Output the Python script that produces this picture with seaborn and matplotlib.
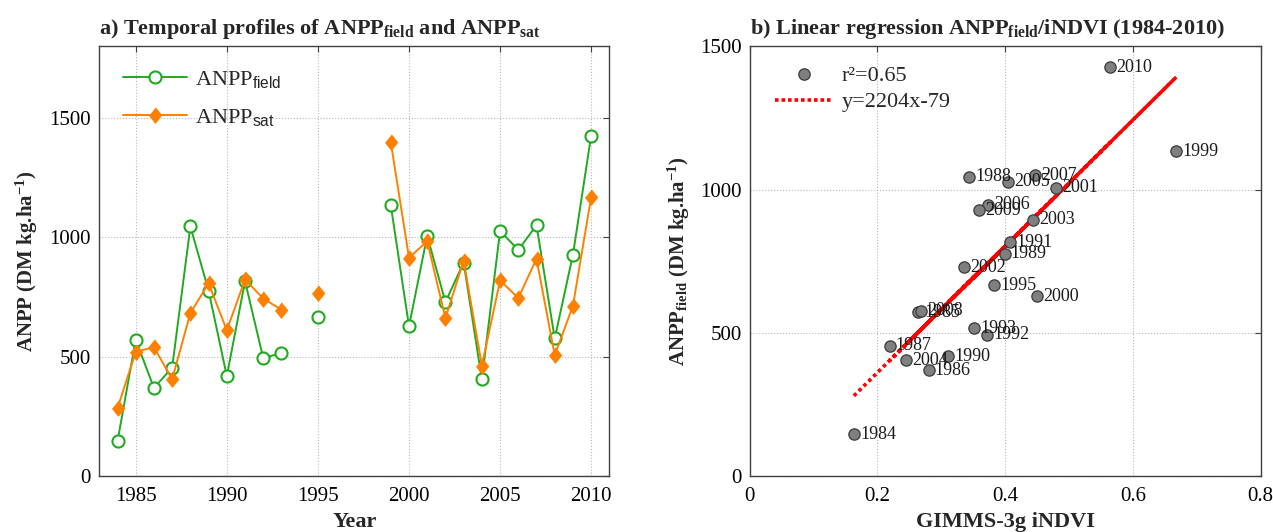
import numpy as np
import pandas as pd
import matplotlib
matplotlib.use("Agg")
import matplotlib.pyplot as plt
from matplotlib.lines import Line2D
import seaborn as sns

# ---------------- data ----------------
years = [1984, 1985, 1986, 1987, 1988, 1989, 1990, 1991, 1992, 1993, 1995,
         1999, 2000, 2001, 2002, 2003, 2004, 2005, 2006, 2007, 2008, 2009, 2010]
anpp_field = [146, 572, 369, 455, 1046, 777, 419, 817, 494, 516, 666,
              1135, 628, 1007, 729, 895, 405, 1027, 948, 1051, 577, 928, 1427]
anpp_sat = [284, 521, 540, 406, 683, 808, 611, 824, 744, 697, 769,
            1399, 915, 984, 662, 903, 463, 820, 746, 911, 506, 714, 1169]
# continuous runs of years (line segments)
segment = [1, 1, 1, 1, 1, 1, 1, 1, 1, 1, 2,
           3, 3, 3, 3, 3, 3, 3, 3, 3, 3, 3, 3]
indvi = [0.163, 0.264, 0.280, 0.219, 0.343, 0.399, 0.311, 0.408, 0.372, 0.351, 0.383,
         0.668, 0.450, 0.479, 0.335, 0.443, 0.245, 0.405, 0.373, 0.447, 0.268, 0.359, 0.565]
slope, intercept = 2204, -79
r2_text = "r\u00b2=0.65"
fit_text = "y=2204x-79"

xticks_a = [1985, 1990, 1995, 2000, 2005, 2010]
yticks = [0, 500, 1000, 1500]
xticks_b = [0, 0.2, 0.4, 0.6, 0.8]
xticklabels_b = ["0", "0.2", "0.4", "0.6", "0.8"]

# ---------------- style ----------------
sns.set_style("white")
plt.rcParams["font.family"] = ["Liberation Serif", "DejaVu Serif"]
plt.rcParams["mathtext.fontset"] = "custom"
plt.rcParams["mathtext.rm"] = "Liberation Serif"
plt.rcParams["mathtext.bf"] = "Liberation Serif:bold"
plt.rcParams["mathtext.sf"] = "Liberation Sans"
plt.rcParams["mathtext.it"] = "Liberation Serif:italic"

GREEN = "#1faa1f"
ORANGE = "#ff8000"
SPINE = "#404040"
FS = 15
DIAMOND = [(0, 1), (0.8, 0), (0, -1), (-0.8, 0)]

df = pd.DataFrame({"year": years, "field": anpp_field, "sat": anpp_sat, "seg": segment,
                   "indvi": indvi})

fig = plt.figure(figsize=(12.73, 5.32), dpi=100)
ax1 = fig.add_axes([0.078, 0.105, 0.4007, 0.8076])
ax2 = fig.add_axes([0.589, 0.105, 0.4012, 0.8076])

def style_axes(ax):
    ax.grid(True, linestyle=":", color="#b8b8b8", linewidth=0.8)
    ax.set_axisbelow(True)
    for s in ax.spines.values():
        s.set_color(SPINE)
        s.set_linewidth(1.0)
        s.set_visible(True)
    ax.tick_params(direction="in", length=4, width=0.8, top=True, right=True,
                   labelsize=FS, pad=6, color=SPINE, labelcolor="black")
    ax.tick_params(axis="x", pad=8)

# ---------------- panel a ----------------
sns.lineplot(data=df, x="year", y="field", units="seg", estimator=None, ax=ax1,
             color=GREEN, lw=1.4, marker="o", markersize=8.7, markerfacecolor="white",
             markeredgecolor=GREEN, markeredgewidth=1.5)
sns.lineplot(data=df, x="year", y="sat", units="seg", estimator=None, ax=ax1,
             color=ORANGE, lw=1.4, marker=DIAMOND, markersize=11, markerfacecolor=ORANGE,
             markeredgecolor=ORANGE, markeredgewidth=0.8)
ax1.set_xlim(1983, 2011)
ax1.set_ylim(0, 1800)
ax1.set_xticks(xticks_a)
ax1.set_yticks(yticks)
style_axes(ax1)
ax1.set_xlabel("Year", fontsize=FS + 1, fontweight="bold", labelpad=4)
ax1.set_ylabel(r"ANPP (DM kg.ha$^{\mathbf{-1}}$)", fontsize=FS, fontweight="bold", labelpad=7)
ax1.set_title(r"a) Temporal profiles of ANPP$_{\mathbf{field}}$ and ANPP$_{\mathbf{sat}}$",
              fontsize=16, fontweight="bold", loc="left", pad=9)

h_field = Line2D([], [], color=GREEN, lw=1.4, marker="o", markersize=8.7,
                 markerfacecolor="white", markeredgecolor=GREEN, markeredgewidth=1.5)
h_sat = Line2D([], [], color=ORANGE, lw=1.4, marker=DIAMOND, markersize=11,
               markerfacecolor=ORANGE, markeredgecolor=ORANGE, markeredgewidth=0.8)
ax1.legend([h_field, h_sat], [r"ANPP$_{\mathsf{field}}$", r"ANPP$_{\mathsf{sat}}$"],
           loc="upper left", bbox_to_anchor=(0.046, 0.948), frameon=False,
           fontsize=FS + 1, handlelength=2.9, handletextpad=0.35, labelspacing=0.75,
           borderaxespad=0, borderpad=0)

# ---------------- panel b ----------------
# fitted line drawn through the observations in year order (dotted, overlapping passes)
fit = pd.DataFrame({"x": indvi, "y": slope * np.array(indvi) + intercept,
                    "order": np.arange(len(indvi))})
sns.lineplot(data=fit, x="x", y="y", ax=ax2, color="red", lw=2.6, sort=False,
             estimator=None, linestyle=(0, (1, 0.9)), zorder=2)
sns.scatterplot(data=df, x="indvi", y="field", ax=ax2, s=66, color="#7f7f7f",
                edgecolor="#3a3a3a", linewidth=0.9, zorder=3, legend=False)
for yr, xv, yv in zip(years, indvi, anpp_field):
    ax2.annotate(str(yr), (xv, yv), xytext=(4.5, 0), textcoords="offset points",
                 ha="left", va="center", fontsize=13, color="#1a1a1a", zorder=4)

ax2.set_xlim(0, 0.8)
ax2.set_ylim(0, 1500)
ax2.set_xticks(xticks_b)
ax2.set_xticklabels(xticklabels_b)
ax2.set_yticks(yticks)
style_axes(ax2)
ax2.set_xlabel("GIMMS-3g iNDVI", fontsize=FS + 1, fontweight="bold", labelpad=4)
ax2.set_ylabel(r"ANPP$_{\mathbf{field}}$ (DM kg.ha$^{\mathbf{-1}}$)", fontsize=FS,
               fontweight="bold", labelpad=6)
ax2.set_title(r"b) Linear regression ANPP$_{\mathbf{field}}$/iNDVI (1984-2010)",
              fontsize=16, fontweight="bold", loc="left", pad=9)

h_pts = Line2D([], [], linestyle="none", marker="o", markersize=8.2, markerfacecolor="#7f7f7f",
               markeredgecolor="#3a3a3a", markeredgewidth=0.9)
h_fit = Line2D([], [], color="red", lw=2.6, linestyle=(0, (1, 0.8)))
ax2.legend([h_pts, h_fit], [r2_text, fit_text], loc="upper left",
           bbox_to_anchor=(0.049, 0.955), frameon=False, fontsize=FS + 1,
           handlelength=2.6, handletextpad=0.4, labelspacing=0.25,
           borderaxespad=0, borderpad=0)

fig.savefig("out.png", dpi=100)
